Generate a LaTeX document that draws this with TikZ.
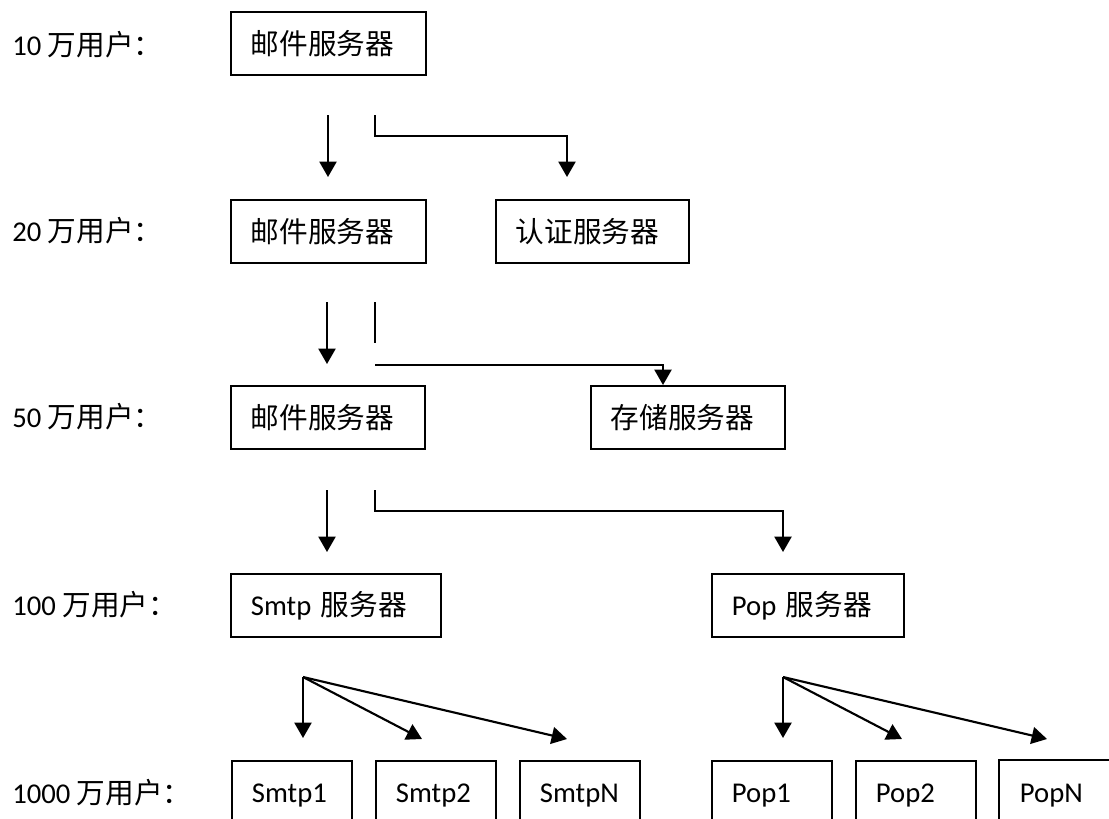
\documentclass[tikz,border=0pt]{standalone}
\usepackage{fontspec}
\setmainfont{Carlito}
\newfontfamily\cjk{Noto Sans CJK SC}
\usetikzlibrary{arrows.meta}
\tikzset{
  box/.style={draw, line width=1.4pt, anchor=north west, minimum height=47.25pt,
    inner xsep=15pt, inner ysep=0pt, text width=#1, align=left, font=\fontsize{21.5pt}{25pt}\selectfont},
  lbl/.style={anchor=west, inner sep=0pt, font=\fontsize{21.5pt}{25pt}\selectfont},
  arr/.style={line width=1.6pt, -{Triangle[width=12.75pt,length=11.5pt]}},
  ln/.style={line width=1.6pt},
  edge/.style={line width=1.4pt}
}
\begin{document}
\begin{tikzpicture}[x=0.75pt,y=-0.75pt]
\useasboundingbox (0,0) rectangle (1109,818);
\clip (0,0) rectangle (1109,818);
% labels
\node[lbl] (l1) at (12,45) {10 {\cjk 万用户：}};
\node[lbl] (l2) at (12,231) {20 {\cjk 万用户：}};
\node[lbl] (l3) at (12,417) {50 {\cjk 万用户：}};
\node[lbl] (l4) at (12,605) {100 {\cjk 万用户：}};
\node[lbl] (l5) at (12,793) {1000 {\cjk 万用户：}};
% boxes
\node[box=116.25pt] (b1) at (230,11) {\cjk 邮件服务器};
\node[box=116.25pt] (b2a) at (230,199) {\cjk 邮件服务器};
\node[box=114.75pt] (b2b) at (495,199) {\cjk 认证服务器};
\node[box=115.5pt] (b3a) at (230,385) {\cjk 邮件服务器};
\node[box=115.5pt] (b3b) at (590,385) {\cjk 存储服务器};
\node[box=127.5pt] (b4a) at (230,573) {Smtp {\cjk 服务器}};
\node[box=114pt] (b4b) at (711,573) {Pop {\cjk 服务器}};
\node[box=60pt, minimum height=52.5pt] (s1) at (231,760) {Smtp1};
\node[box=60pt, minimum height=52.5pt] (s2) at (375,760) {Smtp2};
\node[box=60pt, minimum height=52.5pt] (sN) at (519,760) {SmtpN};
\node[box=60pt, minimum height=52.5pt] (p1) at (711,760) {Pop1};
\node[box=60pt, minimum height=52.5pt] (p2) at (855,760) {Pop2};
\node[box=75pt, minimum height=52.5pt, draw=none] (pN) at (999,760) {PopN};
\draw[edge] (pN.south west) -- (pN.north west) -- (pN.north east);
% coordinates
\coordinate (r1a) at (328,115); \coordinate (r1t) at (328,177);
\coordinate (r1b) at (375,115); \coordinate (r1c) at (375,136);
\coordinate (r1d) at (567,136); \coordinate (r1e) at (567,177);
\coordinate (r2a) at (327,302); \coordinate (r2t) at (327,364);
\coordinate (r2b) at (375,302); \coordinate (r2c) at (375,343);
\coordinate (r2d) at (375,365); \coordinate (r2e) at (663,365);
\coordinate (r3a) at (327,490); \coordinate (r3t) at (327,552);
\coordinate (r3b) at (375,490); \coordinate (r3c) at (375,511);
\coordinate (r3d) at (783,511); \coordinate (r3e) at (783,552);
\coordinate (sa) at (303,677);
\coordinate (st1) at (303,738); \coordinate (st2) at (422,739); \coordinate (stN) at (567,739);
\coordinate (pa) at (783,677);
\coordinate (pt1) at (783,738); \coordinate (pt2) at (902,739); \coordinate (ptN) at (1047,739);
% connectors
\draw[arr] (r1a) -- (r1t);
\draw[arr] (r1b) -- (r1c) -- (r1d) -- (r1e);
\draw[arr] (r2a) -- (r2t);
\draw[ln] (r2b) -- (r2c);
\draw[arr] (r2d) -- (r2e) -- (r2e |- b3b.north);
\draw[arr] (r3a) -- (r3t);
\draw[arr] (r3b) -- (r3c) -- (r3d) -- (r3e);
\draw[arr] (sa) -- (st1);
\draw[arr] (sa) -- (st2);
\draw[arr] (sa) -- (stN);
\draw[arr] (pa) -- (pt1);
\draw[arr] (pa) -- (pt2);
\draw[arr] (pa) -- (ptN);
\end{tikzpicture}
\end{document}
